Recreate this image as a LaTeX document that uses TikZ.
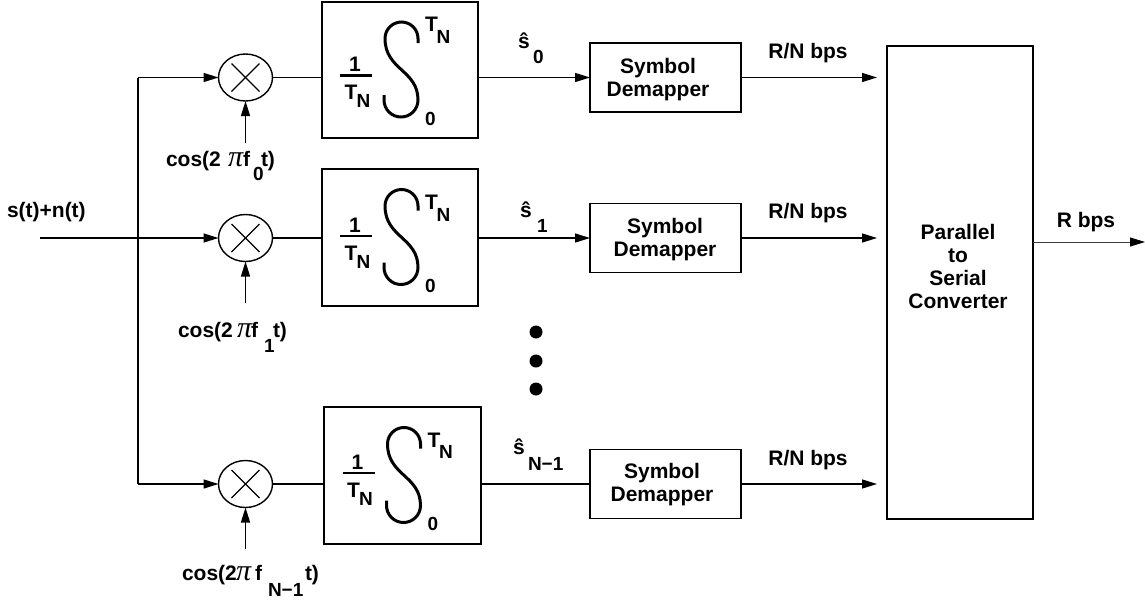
\documentclass[tikz,border=0pt]{standalone}
\usepackage{fontspec}
\setmainfont{Liberation Sans}
\newfontfamily\pifont{Liberation Serif}
\usetikzlibrary{arrows.meta,shapes.geometric}
\newcommand\mainsz{\fontsize{21}{23}\selectfont}
\newcommand\subsz{\fontsize{19}{20}\selectfont}
\newcommand\pisz{\fontsize{30}{30}\selectfont}

% integrator contents: #1 box name, #2 fraction bar y offset, #3 upper limit y offset
\newcommand\intcontent[3]{%
 \begin{scope}[shift={(#1.center)}]
  \draw[intsign] (18,-27) -- (18,-31.5) arc(0:-180:16.5)
     .. controls (-15,0) and (18,0) .. (18,30) arc(0:180:17) -- (-16,25);
  \node (#1one) at (-45,#2-11) {1};
  \draw[fracbar] (-60,#2) -- (-28,#2);
  \node (#1T) at (-49,#2+17) {T};
  \node[subf] (#1N) at (-36.5,#2+25.5) {N};
  \node (#1uT) at (31.5,#3) {T};
  \node[subf] (#1uN) at (43.5,#3+12) {N};
  \node[subf] (#1lo) at (30.5,48.5) {0};
 \end{scope}}

% cos label: #1 name, #2 x cos, #3 x pi, #4 x f, #5 x sub, #6 x t, #7 baseline, #8 sub baseline, #9 sub text
\newcommand\coslabel[9]{%
  \node[anchor=base west] (#1a) at (#2,#7) {cos(2};
  \node[anchor=base west] (#1b) at (#3,#7) {\pifont\pisz\mdseries\itshape π};
  \node[anchor=base west] (#1c) at (#4,#7) {f};
  \node[anchor=base west, subf] (#1d) at (#5,#8) {#9};
  \node[anchor=base west] (#1e) at (#6,#7) {t)};
}

\begin{document}
\begin{tikzpicture}[x=1pt,y=-1pt,
  every node/.style={font=\bfseries\mainsz, inner sep=0pt, outer sep=0pt},
  subf/.style={font=\bfseries\subsz},
  ln/.style={line width=1.4pt},
  arr/.style={ln, -{Triangle[length=15pt,width=9pt]}},
  mult/.style={ellipse, draw, line width=1.4pt, minimum width=54pt, minimum height=47pt},
  intbox/.style={draw, line width=1.6pt, minimum width=156pt},
  dmbox/.style={draw, line width=1.6pt, minimum width=151pt, minimum height=69pt},
  dmtext/.style={align=center},
  psbox/.style={draw, line width=1.6pt, minimum width=146pt, minimum height=473pt},
  intsign/.style={line width=3pt},
  fracbar/.style={line width=2.2pt},
  xmark/.style={line width=1.1pt},
  dot/.style={circle, fill=black, minimum size=13pt}
]
\fill[white] (0,0) rectangle (1145,603);
\useasboundingbox (0,0) rectangle (1145,603);

% multipliers
\node[mult] (m0) at (245.5,77.5) {};
\node[mult] (m1) at (245.5,238) {};
\node[mult] (m2) at (245.5,484) {};
\foreach \m in {m0,m1,m2}{
  \draw[xmark] (\m.center) ++(-14,-14) -- ++(28,28);
  \draw[xmark] (\m.center) ++(-14,14) -- ++(28,-28);
}

% input and bus
\coordinate (in) at (40,238);
\coordinate (b0) at (138,77.5);
\coordinate (b2) at (138,484);
\node[anchor=base west] (sig) at (7,217) {s(t)+n(t)};
\draw[ln] (b0) -- (b2);
\draw[arr] (b0) -- (m0);
\draw[arr] (in) -- (m1);
\draw[arr] (b2) -- (m2);

% carrier inputs
\coordinate (c0) at (245.5,143);
\coordinate (c1) at (245.5,303);
\coordinate (c2) at (245.5,549);
\draw[arr] (c0) -- (m0);
\draw[arr] (c1) -- (m1);
\draw[arr] (c2) -- (m2);
\coslabel{cz}{166}{228}{243}{253}{261}{166}{180}{0}
\coslabel{co}{178}{237}{251}{264}{273}{337}{352}{1}
\coslabel{cn}{182}{236}{255}{268}{305}{580}{596}{N−1}

% integrators
\node[intbox, minimum height=136pt] (I0) at (400,70) {};
\node[intbox, minimum height=137pt] (I1) at (400,237.5) {};
\node[intbox, minimum height=137pt, minimum width=157pt] (I2) at (402.5,475.5) {};
\intcontent{I0}{5.5}{-45.5}
\intcontent{I1}{-1.5}{-35}
\intcontent{I2}{-2.5}{-35.5}
\draw[ln] (m0.east) -- (m0.east -| I0.west);
\draw[ln] (m1.east) -- (m1.east -| I1.west);
\draw[ln] (m2.east) -- (m2.east -| I2.west);

% estimates
\node[anchor=base west] (sh0) at (518,48) {ŝ};
\node[anchor=base west, subf] (sh0s) at (533,63) {0};
\node[anchor=base west] (sh1) at (520,217) {ŝ};
\node[anchor=base west, subf] (sh1s) at (537,232) {1};
\node[anchor=base west] (sh2) at (513,454) {ŝ};
\node[anchor=base west, subf] (sh2s) at (528,470) {N−1};

% dots
\node[dot] (d1) at (536,332) {};
\node[dot] (d2) at (536,361) {};
\node[dot] (d3) at (536,389) {};

% demappers
\node[dmbox] (D0) at (665.5,77.5) {};
\node[dmbox] (D1) at (665.5,238) {};
\node[dmbox] (D2) at (665.5,484) {};
\node[dmtext] (D0t) at (658,80) {Symbol\\Demapper};
\node[dmtext] (D1t) at (665,240) {Symbol\\Demapper};
\node[dmtext] (D2t) at (662,485) {Symbol\\Demapper};
\draw[arr] (m0.east -| I0.east) -- (D0.west);
\draw[arr] (m1.east -| I1.east) -- (D1.west);
\draw[ln] (m2.east -| I2.east) -- (D2.west);

% parallel to serial
\node[psbox] (PS) at (960,282.5) {};
\node[align=center] (PSt) at (958,266) {Parallel\\to\\Serial\\Converter};
\draw[arr, shorten >=10pt] (D0.east) -- (D0.east -| PS.west);
\draw[arr, shorten >=10pt] (D1.east) -- (D1.east -| PS.west);
\draw[arr, shorten >=10pt] (D2.east) -- (D2.east -| PS.west);
\node[anchor=base] (r0) at (808,58) {R/N bps};
\node[anchor=base] (r1) at (808,218) {R/N bps};
\node[anchor=base] (r2) at (808,465) {R/N bps};

% output
\coordinate (out) at (1145,242);
\draw[line width=1pt, black!75, -{Triangle[length=15pt,width=9pt,color=black]}] (PS.east |- out) -- (out);
\node[anchor=base] (rout) at (1086,227) {R bps};
\end{tikzpicture}
\end{document}
